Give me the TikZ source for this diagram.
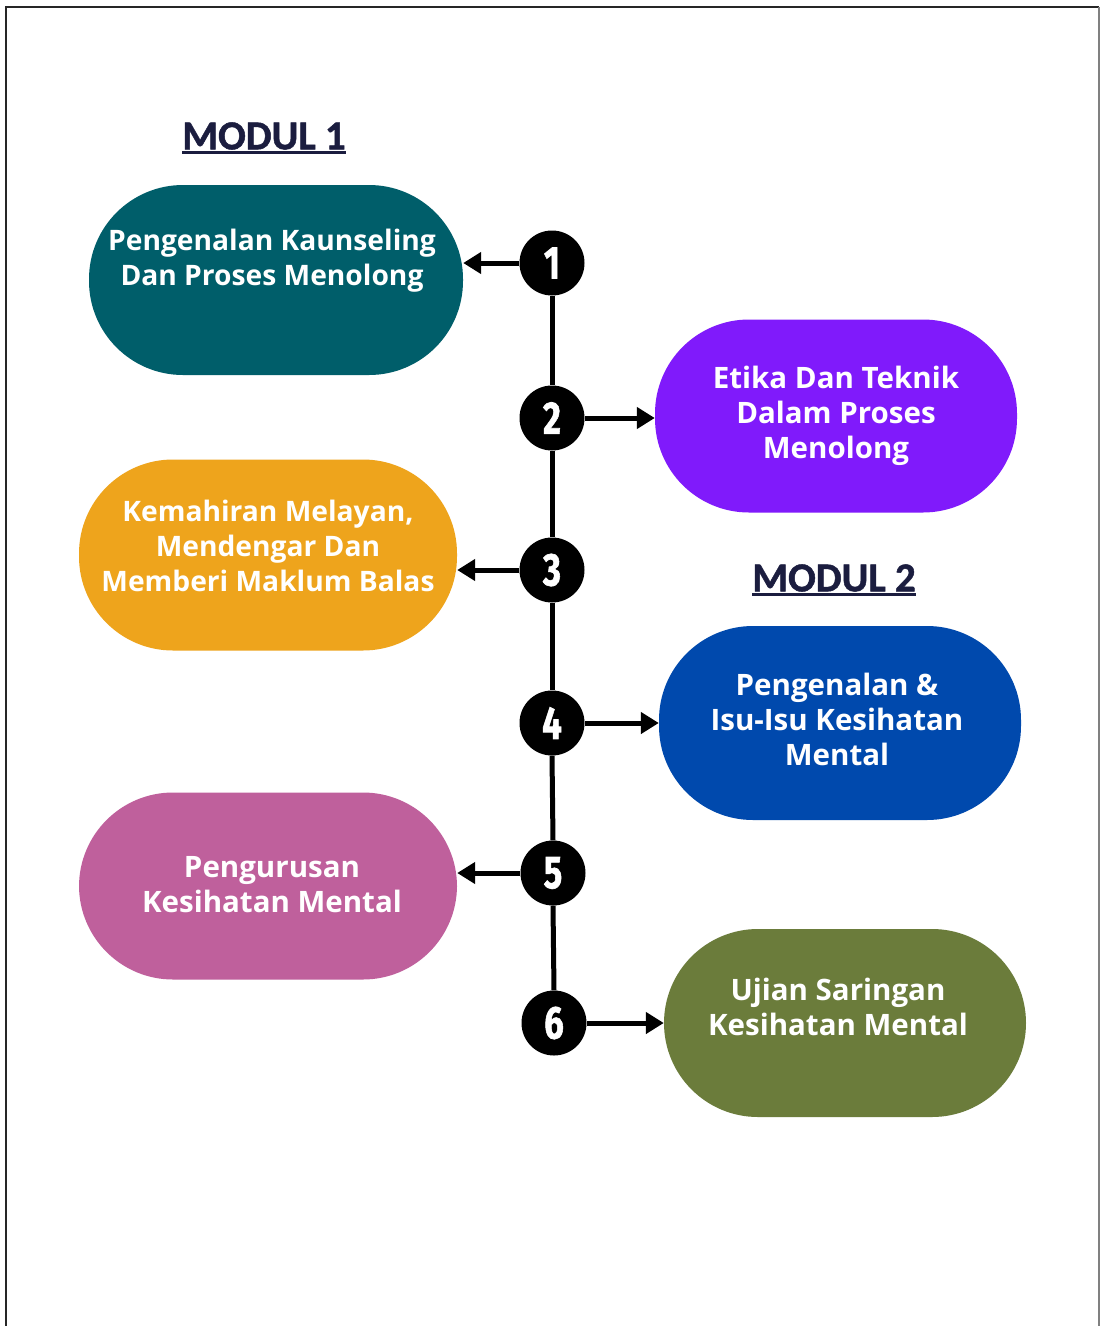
\documentclass[tikz,border=0pt]{standalone}
\usepackage{fontspec}
\setmainfont{Open Sans}
\newfontfamily\titlefont{Carlito}[BoldFeatures={FakeBold=1.2}]
\newfontfamily\numfont{Fira Sans}[BoldFeatures={FakeBold=1.5}]
\usetikzlibrary{arrows.meta}
\definecolor{cteal}{HTML}{005E6A}
\definecolor{cpurple}{HTML}{801AFB}
\definecolor{corange}{HTML}{EEA41C}
\definecolor{cblue}{HTML}{0049AD}
\definecolor{cpink}{HTML}{BF609C}
\definecolor{colive}{HTML}{6B7C3B}
\definecolor{cnavy}{HTML}{1B1D3F}
\tikzset{
  pill/.style={rectangle, draw=none, rounded corners=94pt, inner sep=0pt},
  boxtext/.style={text=white, font=\fontsize{29.5}{35}\selectfont\bfseries, align=center, inner sep=0pt},
  boxtextsm/.style={boxtext, font=\fontsize{28.2}{35}\selectfont\bfseries},
  numcirc/.style={circle, fill=black, minimum size=65pt, inner sep=0pt, text=white, font=\numfont\fontsize{46}{46}\selectfont\bfseries},
  spine/.style={line width=5pt, black},
  arr/.style={line width=5pt, black, -{Triangle[length=18pt,width=21pt]}},
  title/.style={text=cnavy, font=\titlefont\fontsize{41}{41}\selectfont\bfseries, inner sep=0pt},
}
\begin{document}
\begin{tikzpicture}[x=1pt,y=-1pt]
\useasboundingbox (0,0) rectangle (1103,1326);
\fill[white] (0,0) rectangle (1103,1326);
% frame
\draw[line width=1.5pt, black!85] (6,1326) -- (6,7) -- (1099,7);
\draw[line width=2pt, black!50] (1099,7) -- (1099,1326);
% titles
\node[title] (m1) at (264,136) {MODUL 1};
\draw[line width=3pt, cnavy] ([yshift=-3pt]m1.south west) -- ([yshift=-3pt]m1.south east);
\node[title] (m2) at (834,578) {MODUL 2};
\draw[line width=3pt, cnavy] ([yshift=-3pt]m2.south west) -- ([yshift=-3pt]m2.south east);
% boxes
\node[pill, fill=cteal, minimum width=374pt, minimum height=190pt] (b1) at (276,280) {};
\node[pill, fill=cpurple, minimum width=362pt, minimum height=193pt] (b2) at (836,416) {};
\node[pill, fill=corange, minimum width=378pt, minimum height=191pt] (b3) at (268,555) {};
\node[pill, fill=cblue, minimum width=362pt, minimum height=194pt] (b4) at (840,723) {};
\node[pill, fill=cpink, minimum width=378pt, minimum height=187pt] (b5) at (268,886) {};
\node[pill, fill=colive, minimum width=362pt, minimum height=188pt] (b6) at (845,1023) {};
% texts
\node[boxtextsm] (t1) at (272,261) {Pengenalan Kaunseling\\Dan Proses Menolong};
\node[boxtext] (t2) at (836,416) {Etika Dan Teknik\\Dalam Proses\\Menolong};
\node[boxtextsm] (t3) at (268,546) {Kemahiran Melayan,\\Mendengar Dan\\Memberi Maklum Balas};
\node[boxtext] (t4) at (837,719) {Pengenalan \&\\Isu-Isu Kesihatan\\Mental};
\node[boxtext] (t5) at (272,885) {Pengurusan\\Kesihatan Mental};
\node[boxtext] (t6) at (838,1007) {Ujian Saringan\\Kesihatan Mental};
% circles
\node[numcirc] (c1) at (552,263) {\scalebox{0.75}[1]{1}};
\node[numcirc] (c2) at (552,418) {\scalebox{0.75}[1]{2}};
\node[numcirc] (c3) at (552,570) {\scalebox{0.75}[1]{3}};
\node[numcirc] (c4) at (552,723) {\scalebox{0.75}[1]{4}};
\node[numcirc] (c5) at (553,873) {\scalebox{0.75}[1]{5}};
\node[numcirc] (c6) at (554,1023) {\scalebox{0.75}[1]{6}};
% spine
\draw[spine] (c1.south) -- (c2.north);
\draw[spine] (c2.south) -- (c3.north);
\draw[spine] (c3.south) -- (c4.north);
\draw[spine] (c4.south) -- (c5.north);
\draw[spine] (c5.south) -- (c6.north);
% arrows
\draw[arr] (c1.west) -- (c1.west -| b1.east);
\draw[arr] (c2.east) -- (c2.east -| b2.west);
\draw[arr] (c3.west) -- (c3.west -| b3.east);
\draw[arr] (c4.east) -- (c4.east -| b4.west);
\draw[arr] (c5.west) -- (c5.west -| b5.east);
\draw[arr] (c6.east) -- (c6.east -| b6.west);
\end{tikzpicture}
\end{document}
